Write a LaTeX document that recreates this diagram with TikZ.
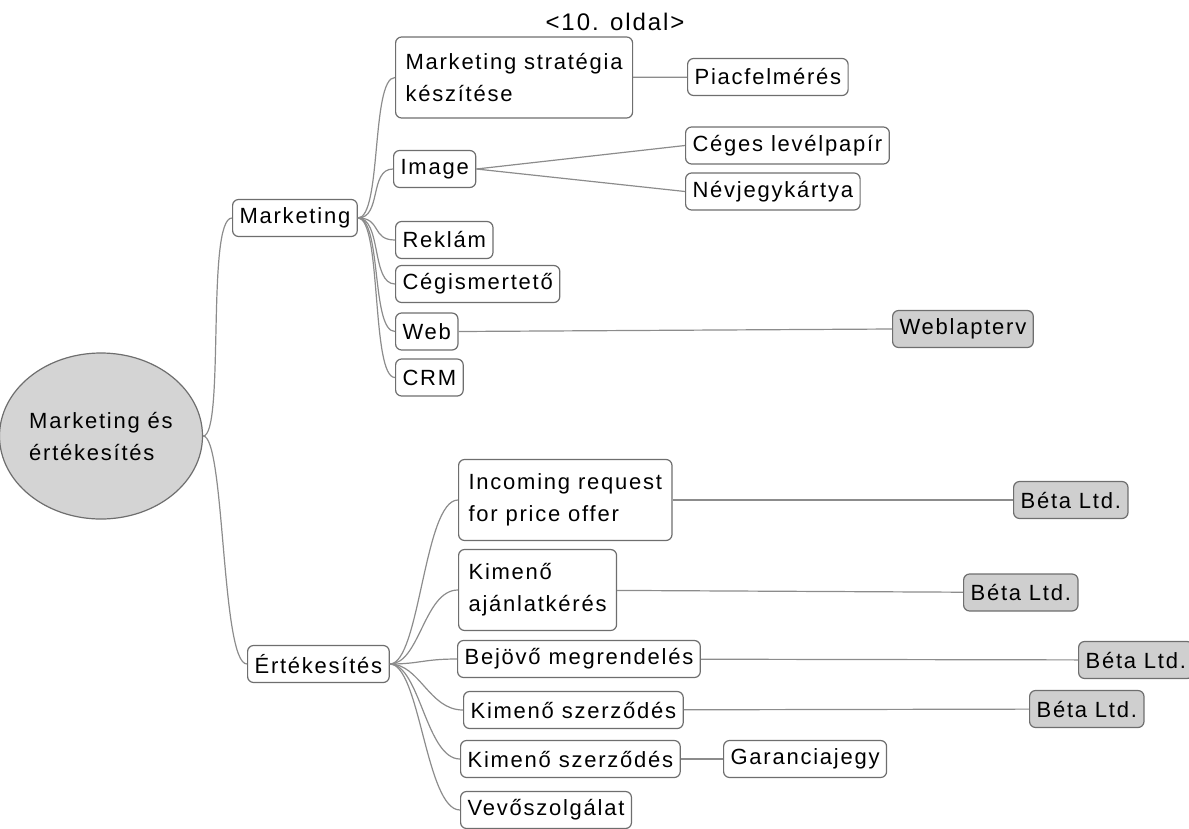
\documentclass[tikz,border=0pt]{standalone}
\usepackage{fontspec}
\setmainfont{Liberation Sans}[LetterSpace=8]
\usetikzlibrary{shapes.geometric}
\definecolor{framegray}{HTML}{6E6E6E}
\definecolor{wiregray}{HTML}{8C8C8C}
\definecolor{leafgray}{HTML}{CFCFCF}
\definecolor{rootgray}{HTML}{D4D4D4}
\tikzset{
  topic/.style={draw=framegray, line width=1.2pt, rounded corners=6pt, fill=white,
    anchor=west, align=left, inner xsep=7pt, inner ysep=0pt, minimum height=37pt,
    font=\fontsize{22}{32}\selectfont},
  twoline/.style={topic, inner xsep=10pt, minimum height=81pt},
  leaf/.style={topic, fill=leafgray},
  branch/.style={draw=wiregray, line width=1.2pt},
}

\begin{document}
\begin{tikzpicture}[x=1pt,y=-1pt]
  \useasboundingbox (0,0) rectangle (1189,828);
  % title
  \node[font=\fontsize{24}{30}\selectfont] (title) at (615,22) {<10. oldal>};
  % center
  \node[ellipse, draw=framegray, line width=1.2pt, fill=rootgray, minimum width=178pt,
    minimum height=166pt, inner sep=0pt, align=left, font=\fontsize{22}{32}\selectfont]
    (root) at (101,436) {Marketing és\\értékesítés};
  % main branches
  \node[topic] (mkt) at (232,218) {Marketing};
  \node[topic] (ert) at (247,664) {Értékesítés};
  % marketing
  \node[twoline] (strat) at (395,77.5) {Marketing stratégia\\készítése};
  \node[topic] (piac) at (687,77) {Piacfelmérés};
  \node[topic] (img) at (393,169) {Image};
  \node[topic] (ceges) at (685,145.5) {Céges levélpapír};
  \node[topic] (nevj) at (685,191.5) {Névjegykártya};
  \node[topic] (rek) at (395,240) {Reklám};
  \node[topic] (ceg) at (395,284) {Cégismertető};
  \node[topic] (web) at (395,331.5) {Web};
  \node[leaf] (weblap) at (892,329) {Weblapterv};
  \node[topic] (crm) at (395,377.5) {CRM};
  % ertekesites
  \node[twoline] (inc) at (458,500) {Incoming request\\for price offer};
  \node[twoline] (kiaj) at (458,590) {Kimenő\\ajánlatkérés};
  \node[topic] (bej) at (457,659) {Bejövő megrendelés};
  \node[topic] (ksz1) at (463,710) {Kimenő szerződés};
  \node[topic] (ksz2) at (460,759) {Kimenő szerződés};
  \node[topic] (gar) at (723,759) {Garanciajegy};
  \node[topic] (vevo) at (460,810) {Vevőszolgálat};
  \node[leaf] (beta1) at (1013,500) {Béta Ltd.};
  \node[leaf] (beta2) at (963,592.5) {Béta Ltd.};
  \node[leaf] (beta3) at (1078,660) {Béta Ltd.};
  \node[leaf] (beta4) at (1029,709) {Béta Ltd.};
  % curved links
  \foreach \c in {mkt,ert}
    \draw[branch] (root.east) .. controls +(22,0) and +(-26,0) .. (\c.west);
  \foreach \c in {strat,img,rek,ceg,web,crm}
    \draw[branch] (mkt.east) .. controls +(24,0) and +(-24,0) .. (\c.west);
  \foreach \c in {inc,kiaj,bej,ksz1,ksz2,vevo}
    \draw[branch] (ert.east) .. controls +(30,0) and +(-34,0) .. (\c.west);
  % straight links
  \draw[branch] (strat) -- (piac);
  \draw[branch] (img.east) -- (ceges.west);
  \draw[branch] (img.east) -- (nevj.west);
  \draw[branch] (web.east) -- (weblap.west);
  \draw[branch] (inc) -- (beta1);
  \draw[branch] (kiaj) -- (beta2);
  \draw[branch] (bej) -- (beta3);
  \draw[branch] (ksz1) -- (beta4);
  \draw[branch] (ksz2) -- (gar);
\end{tikzpicture}
\end{document}
